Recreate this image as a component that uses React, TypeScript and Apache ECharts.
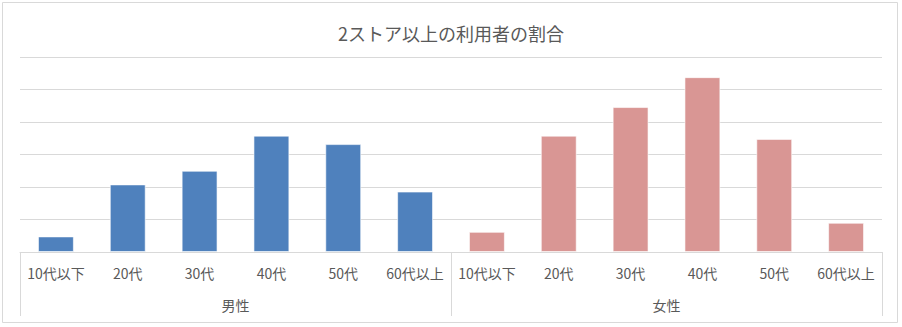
import React, { useEffect, useRef } from "react";
import * as echarts from "echarts";

const title = "2ストア以上の利用者の割合";
const ageCategories = ["10代以下", "20代", "30代", "40代", "50代", "60代以上"];
const groups = ["男性", "女性"];
const maleValues = [2.4, 10.4, 12.5, 17.9, 16.6, 9.3];
const femaleValues = [3.1, 17.9, 22.3, 26.9, 17.4, 4.5];
const maleColor = "#4f81bd";
const femaleColor = "#d99694";

export default function App() {
  const ref = useRef<HTMLDivElement>(null);
  useEffect(() => {
    if (!ref.current) return;
    const chart = echarts.init(ref.current, null, { renderer: "svg" });
    const labels = [...ageCategories, ...ageCategories];
    const data = [
      ...maleValues.map((v) => ({ value: v, itemStyle: { color: maleColor } })),
      ...femaleValues.map((v) => ({ value: v, itemStyle: { color: femaleColor } })),
    ];
    const font = "'Noto Sans CJK JP', 'Noto Sans', sans-serif";
    chart.setOption({
      animation: false,
      textStyle: { fontFamily: font },
      title: {
        text: title,
        left: "center",
        top: 19,
        textStyle: { fontSize: 18, fontWeight: "normal", color: "#595959", fontFamily: font },
      },
      graphic: [
        {
          type: "rect",
          silent: true,
          shape: { x: 2.5, y: 2.5, width: 895, height: 320 },
          style: { fill: "none", stroke: "#d9d9d9", lineWidth: 1 },
        },
      ],
      grid: { left: 20, right: 20, top: 57, bottom: 75, containLabel: false },
      xAxis: [
        {
          type: "category",
          data: labels,
          position: "bottom",
          axisLine: { show: true, lineStyle: { color: "#d9d9d9", width: 1 } },
          axisTick: { show: false },
          axisLabel: { interval: 0, margin: 14, fontSize: 14, color: "#595959", fontFamily: font },
        },
        {
          type: "category",
          data: groups,
          position: "bottom",
          axisLine: { show: false },
          axisTick: { show: true, length: 64, interval: 0, lineStyle: { color: "#d9d9d9", width: 1 } },
          axisLabel: { interval: 0, margin: 46, fontSize: 14, color: "#595959", fontFamily: font },
        },
      ],
      yAxis: {
        type: "value",
        min: 0,
        max: 30,
        interval: 5,
        axisLabel: { show: false },
        axisLine: { show: false },
        axisTick: { show: false },
        splitLine: { show: true, lineStyle: { color: "#d9d9d9", width: 1 } },
      },
      series: [
        {
          type: "bar",
          xAxisIndex: 0,
          data,
          barWidth: "50%",
          itemStyle: { borderColor: "rgba(255,255,255,0.6)", borderWidth: 1 },
        },
      ],
    });
    return () => chart.dispose();
  }, []);
  return (
    <div
      ref={ref}
      style={{ position: "fixed", left: 0, top: 0, width: 902, height: 327, background: "#fff" }}
    />
  );
}
